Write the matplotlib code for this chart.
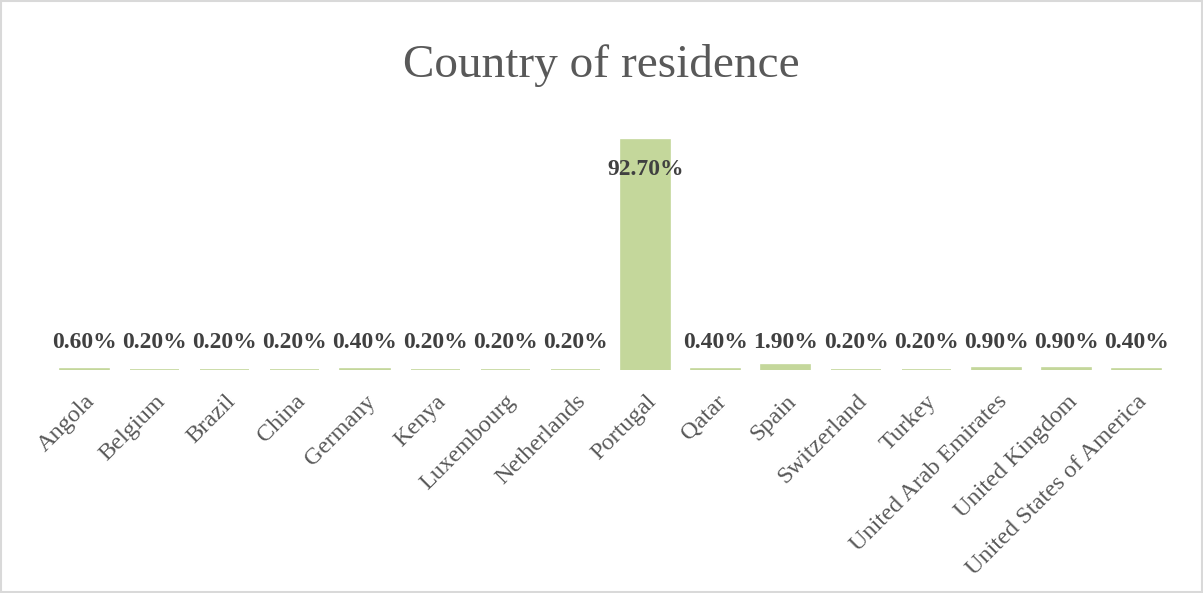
import matplotlib
matplotlib.use("Agg")
import matplotlib.pyplot as plt
from matplotlib.patches import Rectangle

countries = ["Angola", "Belgium", "Brazil", "China", "Germany", "Kenya",
             "Luxembourg", "Netherlands", "Portugal", "Qatar", "Spain",
             "Switzerland", "Turkey", "United Arab Emirates", "United Kingdom",
             "United States of America"]
shares = [0.6, 0.2, 0.2, 0.2, 0.4, 0.2, 0.2, 0.2, 92.7, 0.4, 1.9,
          0.2, 0.2, 0.9, 0.9, 0.4]

plt.rcParams['font.family'] = ['Liberation Serif', 'DejaVu Serif']

fig = plt.figure(figsize=(12.03, 5.93), dpi=100)
ax = fig.add_axes([0.041, 0.376, 0.933, 0.418])

x = range(len(countries))
ax.bar(x, shares, width=0.7, color='#c4d79b', edgecolor='#c4d79b', linewidth=1.2)

# labels: small ones sit on one row, the big one inside its bar
for i, v in enumerate(shares):
    y = 81 if v > 50 else 11
    ax.text(i, y, "%.2f%%" % v, ha='center', va='center',
            fontsize=17, fontweight='bold', color='#404040')

ax.set_xlim(-0.5, len(countries) - 0.5)
ax.set_ylim(0, 100)
ax.set_xticks(list(x))
ax.set_xticklabels(countries, rotation=45, ha='right', va='top',
                   rotation_mode='anchor', fontsize=17.5, color='#595959')
ax.tick_params(axis='x', length=0, pad=15)
ax.set_yticks([])
for s in ax.spines.values():
    s.set_visible(False)

fig.text(0.5, 0.89, "Country of residence", ha='center', va='center',
         fontsize=34, color='#595959')

fig.patches.append(Rectangle((0.001, 0.001), 0.998, 0.997, transform=fig.transFigure,
                             fill=False, edgecolor='#d9d9d9', linewidth=1.5))

fig.savefig("out.png", dpi=100)
